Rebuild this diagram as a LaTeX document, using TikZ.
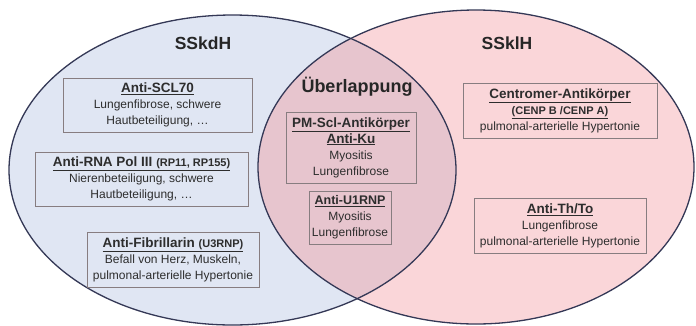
\documentclass[tikz,border=0pt]{standalone}
\usepackage{fontspec}
\setmainfont{Liberation Sans}
\definecolor{leftfill}{RGB}{224,230,243}
\definecolor{rightfill}{RGB}{250,214,217}
\definecolor{overfill}{RGB}{231,197,206}
\definecolor{outline}{RGB}{52,56,86}
\definecolor{txt}{RGB}{45,45,45}
\definecolor{boxline}{RGB}{135,125,128}
\newcommand{\ttl}[1]{{\fontsize{13.5}{16}\selectfont\bfseries\underline{#1}}}
\newcommand{\sttl}[1]{{\fontsize{11}{16}\selectfont\bfseries\underline{#1}}}
\tikzset{
  infobox/.style={draw=boxline, line width=0.8pt, inner sep=0pt, align=center,
    text=txt, font=\fontsize{12}{16}\selectfont},
  header/.style={font=\fontsize{17.5}{20}\selectfont\bfseries, text=black!85, inner sep=0pt}
}
\begin{document}
\begin{tikzpicture}[x=1pt,y=-1pt]
\useasboundingbox (0,0) rectangle (696,325);
\fill[white] (0,0) rectangle (696,325);
% ellipses
\fill[leftfill] (232.5,170) ellipse [x radius=223.5, y radius=155];
\fill[rightfill] (476,167) ellipse [x radius=218, y radius=157];
\begin{scope}
  \clip (232.5,170) ellipse [x radius=223.5, y radius=155];
  \fill[overfill] (476,167) ellipse [x radius=218, y radius=157];
\end{scope}
\draw[outline, line width=1.3pt] (232.5,170) ellipse [x radius=223.5, y radius=155];
\draw[outline, line width=1.3pt] (476,167) ellipse [x radius=218, y radius=157];
% headers
\node[header] (hl) at (203,43) {SSkdH};
\node[header] (hr) at (507,43) {SSklH};
\node[header, font=\fontsize{18}{20}\selectfont\bfseries] (ho) at (357,87) {Überlappung};
% boxes
\node[infobox, minimum width=189, minimum height=54] (scl) at (157.5,105)
  {\ttl{Anti-SCL70}\\ Lungenfibrose, schwere\\ Hautbeteiligung, \dots};
\node[infobox, minimum width=213, minimum height=54] (rna) at (141.5,179)
  {\ttl{Anti-RNA Pol III\ {\fontsize{11}{16}\selectfont(RP11, RP155)}}\\ Nierenbeteiligung, schwere\\ Hautbeteiligung, \dots};
\node[infobox, minimum width=172, minimum height=55] (fib) at (173,259.5)
  {\ttl{Anti-Fibrillarin\ {\fontsize{11}{16}\selectfont(U3RNP)}}\\ Befall von Herz, Muskeln,\\ pulmonal-arterielle Hypertonie};
\node[infobox, minimum width=130, minimum height=71] (pm) at (351,147.5)
  {\ttl{PM-Scl-Antikörper}\\ \ttl{Anti-Ku}\\ Myositis\\ Lungenfibrose};
\node[infobox, minimum width=82, minimum height=53] (u1) at (350,217.5)
  {\sttl{\fontsize{12.5}{16}\selectfont Anti-U1RNP}\\ Myositis\\ Lungenfibrose};
\node[infobox, minimum width=194, minimum height=55] (cen) at (560,110.5)
  {\ttl{Centromer-Antikörper}\\ \sttl{(CENP B /CENP A)}\\ pulmonal-arterielle Hypertonie};
\node[infobox, minimum width=172, minimum height=55] (th) at (560,225.5)
  {\ttl{Anti-Th/To}\\ Lungenfibrose\\ pulmonal-arterielle Hypertonie};
\end{tikzpicture}
\end{document}
